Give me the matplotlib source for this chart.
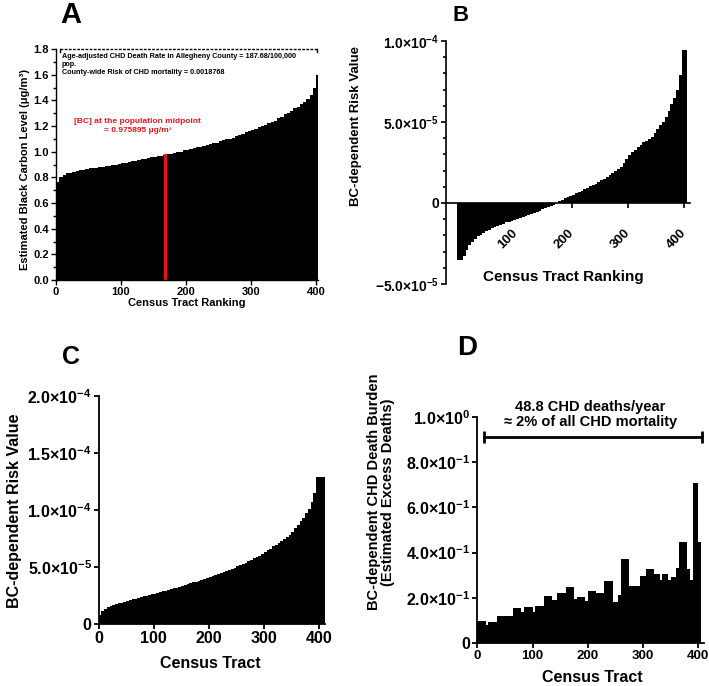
import numpy as np
import matplotlib
matplotlib.use('Agg')
import matplotlib.pyplot as plt
from matplotlib.ticker import MultipleLocator

plt.rcParams['font.family'] = ['Liberation Sans', 'DejaVu Sans']
plt.rcParams['font.weight'] = 'bold'
plt.rcParams['axes.labelweight'] = 'bold'
plt.rcParams['mathtext.fontset'] = 'custom'
plt.rcParams['mathtext.rm'] = 'Liberation Sans:bold'
plt.rcParams['mathtext.it'] = 'Liberation Sans:bold'
plt.rcParams['mathtext.bf'] = 'Liberation Sans:bold'

# A: estimated BC level by census tract ranking (one value per 5 ranks, from 0)
bc_level = [0.76, 0.80, 0.82, 0.83, 0.835, 0.84, 0.85, 0.855, 0.86, 0.865,
            0.87, 0.872, 0.875, 0.88, 0.882, 0.885, 0.89, 0.895, 0.90, 0.905,
            0.91, 0.915, 0.92, 0.925, 0.93, 0.935, 0.94, 0.945, 0.95, 0.955,
            0.96, 0.965, 0.97, 0.975, 0.98, 0.985, 0.99, 0.995, 1.00, 1.01,
            1.015, 1.02, 1.03, 1.035, 1.04, 1.045, 1.05, 1.06, 1.065, 1.07,
            1.08, 1.09, 1.095, 1.10, 1.11, 1.12, 1.13, 1.14, 1.15, 1.16,
            1.17, 1.18, 1.19, 1.20, 1.21, 1.22, 1.23, 1.24, 1.26, 1.27,
            1.29, 1.30, 1.32, 1.34, 1.35, 1.37, 1.39, 1.41, 1.44, 1.50,
            1.60]
midpoint_rank = 167
midpoint_bc = 0.975895
rate_text = ('Age-adjusted CHD Death Rate in Allegheny County = 187.68/100,000\n'
             'pop.\nCounty-wide Risk of CHD mortality = 0.0018768')
midpoint_text = '[BC] at the population midpoint\n= 0.975895 \u03bcg/m\u00b3'

# B: BC-dependent risk relative to midpoint, x1e-5 (per 5 ranks, from -5)
risk_rel = [-3.5, -3.5, -3.3, -2.9, -2.6, -2.4, -2.2, -2.05, -1.95, -1.85,
            -1.75, -1.65, -1.57, -1.5, -1.42, -1.35, -1.28, -1.2, -1.15, -1.1,
            -1.05, -1.0, -0.93, -0.86, -0.8, -0.73, -0.67, -0.6, -0.53, -0.47,
            -0.4, -0.33, -0.27, -0.2, -0.1, 0.0, 0.1, 0.2, 0.3, 0.38,
            0.45, 0.52, 0.6, 0.68, 0.76, 0.85, 0.93, 1.02, 1.1, 1.2,
            1.3, 1.4, 1.5, 1.62, 1.73, 1.85, 1.98, 2.1, 2.25, 2.45,
            2.7, 2.95, 3.15, 3.3, 3.45, 3.6, 3.75, 3.85, 3.95, 4.1,
            4.3, 4.55, 4.8, 5.0, 5.3, 5.7, 6.1, 6.5, 7.0, 7.9,
            9.45, 9.45]

# C: BC-dependent risk value, x1e-5 (per 5 ranks, from 0)
risk_abs = [0.8, 1.15, 1.35, 1.45, 1.55, 1.65, 1.72, 1.8, 1.88, 1.95,
            2.02, 2.08, 2.15, 2.2, 2.28, 2.35, 2.42, 2.48, 2.55, 2.6,
            2.67, 2.73, 2.8, 2.86, 2.92, 2.98, 3.05, 3.12, 3.2, 3.28,
            3.35, 3.42, 3.5, 3.57, 3.65, 3.72, 3.8, 3.87, 3.95, 4.02,
            4.1, 4.18, 4.27, 4.36, 4.45, 4.55, 4.65, 4.75, 4.85, 4.95,
            5.05, 5.15, 5.25, 5.37, 5.5, 5.62, 5.75, 5.88, 6.0, 6.15,
            6.3, 6.45, 6.6, 6.8, 6.95, 7.1, 7.3, 7.45, 7.6, 7.85,
            8.1, 8.4, 8.7, 9.0, 9.3, 9.7, 10.1, 10.7, 11.5, 12.9,
            12.9, 12.9]

# D: BC-dependent CHD death burden (per 5 tracts, from 0)
burden = [0.099, 0.099, 0.099, 0.08, 0.094, 0.094, 0.094, 0.12, 0.12, 0.12,
          0.12, 0.12, 0.12, 0.153, 0.153, 0.153, 0.136, 0.16, 0.16, 0.16,
          0.138, 0.164, 0.164, 0.164, 0.208, 0.208, 0.208, 0.19, 0.19, 0.223,
          0.223, 0.223, 0.246, 0.246, 0.246, 0.195, 0.205, 0.205, 0.205, 0.186,
          0.23, 0.23, 0.23, 0.223, 0.223, 0.223, 0.276, 0.276, 0.276, 0.183,
          0.183, 0.212, 0.37, 0.37, 0.37, 0.252, 0.252, 0.252, 0.252, 0.298,
          0.298, 0.329, 0.329, 0.329, 0.304, 0.304, 0.28, 0.305, 0.305, 0.28,
          0.29, 0.29, 0.33, 0.448, 0.448, 0.448, 0.327, 0.28, 0.707, 0.707,
          0.448]
burden_span = [12, 407]
burden_level = 0.91
burden_text = '48.8 CHD deaths/year\n\u2248 2% of all CHD mortality'

a_yticks = [0.0, 0.2, 0.4, 0.6, 0.8, 1.0, 1.2, 1.4, 1.6, 1.8]
b_yticks = [-5e-5, 0, 5e-5, 1e-4]
b_yticklabels = [r'$-5.0{\times}10^{-5}$', '0', r'$5.0{\times}10^{-5}$', r'$1.0{\times}10^{-4}$']
c_yticks = [0, 5e-5, 1e-4, 1.5e-4, 2e-4]
c_yticklabels = ['0', r'$5.0{\times}10^{-5}$', r'$1.0{\times}10^{-4}$',
                 r'$1.5{\times}10^{-4}$', r'$2.0{\times}10^{-4}$']
d_yticks = [0, 0.2, 0.4, 0.6, 0.8, 1.0]
d_yticklabels = ['0', r'$2.0{\times}10^{-1}$', r'$4.0{\times}10^{-1}$',
                 r'$6.0{\times}10^{-1}$', r'$8.0{\times}10^{-1}$', r'$1.0{\times}10^{0}$']

W, H = 709, 686
fig = plt.figure(figsize=(W / 100, H / 100), dpi=100)


def box(l, r, b, t):
    return [l / W, 1 - b / H, (r - l) / W, (b - t) / H]


def style(ax, size, lw=1.2):
    for s in ['top', 'right']:
        ax.spines[s].set_visible(False)
    for s in ['left', 'bottom']:
        ax.spines[s].set_linewidth(lw)
    ax.tick_params(direction='out', length=3.5, width=lw, labelsize=size, pad=1.5)
    ax.tick_params(which='minor', direction='out', length=2, width=lw)


def bars(ax, start, vals, scale=1.0):
    # contiguous bars (5 ranks each) drawn as one filled step outline, no seams
    edges = np.arange(len(vals) + 1) * 5 + start
    ax.stairs(np.array(vals) * scale, edges, baseline=0, fill=True,
              color='black', lw=0)


# ---- A ----
axA = fig.add_axes(box(56, 318, 280, 49))
bars(axA, 0, bc_level)
axA.plot([midpoint_rank, midpoint_rank], [0, midpoint_bc], color='#e8141c', lw=2.4)
axA.set_xlim(0, 403)
axA.set_ylim(0, 1.8)
axA.set_yticks(a_yticks)
axA.yaxis.set_minor_locator(MultipleLocator(0.1))
axA.set_xticks([0, 100, 200, 300, 400])
axA.yaxis.set_major_formatter(plt.FormatStrFormatter('%.1f'))
style(axA, 8, lw=1.0)
axA.plot([6, 401], [1.8, 1.8], ls=(0, (2, 1)), color='black', lw=1.0, clip_on=False)
axA.plot([6, 6], [1.78, 1.8], color='black', lw=1.0, clip_on=False)
axA.plot([401, 401], [1.78, 1.8], color='black', lw=1.0, clip_on=False)
axA.text(9, 1.765, rate_text, fontsize=5.2, va='top', ha='left', linespacing=1.15)
axA.text(126, 1.2, midpoint_text, fontsize=6, color='#e8141c', ha='center', va='center',
         multialignment='center', linespacing=1.3)
fig.text(25 / W, 1 - 170 / H, 'Estimated Black Carbon Level (\u03bcg/m\u00b3)',
         rotation=90, ha='center', va='center', fontsize=8)
fig.text(187 / W, 1 - 303 / H, 'Census Tract Ranking', ha='center', va='center', fontsize=8)

# ---- B ----
axB = fig.add_axes(box(446, 690, 284, 41))
bars(axB, -5, risk_rel, 1e-5)
axB.set_xlim(-25, 410)
axB.set_ylim(-5e-5, 1e-4)
style(axB, 10)
axB.spines['bottom'].set_position(('data', 0))
axB.set_yticks(b_yticks)
axB.set_yticklabels(b_yticklabels)
axB.yaxis.set_minor_locator(MultipleLocator(1e-5))
axB.set_xticks([100, 200, 300, 400])
axB.tick_params(axis='x', pad=17, labelsize=9.5)
plt.setp(axB.get_xticklabels(), rotation=45, ha='right', va='center', rotation_mode='anchor')
fig.text(356 / W, 1 - 126 / H, 'BC-dependent Risk Value', rotation=90,
         ha='center', va='center', fontsize=9.5)
fig.text(563 / W, 1 - 277 / H, 'Census Tract Ranking', ha='center', va='center', fontsize=11)

# ---- C ----
axC = fig.add_axes(box(98.5, 324.5, 624, 396))
bars(axC, 0, risk_abs, 1e-5)
axC.set_xlim(0, 410)
axC.set_ylim(0, 2e-4)
style(axC, 11.5, lw=1.3)
axC.set_yticks(c_yticks)
axC.set_yticklabels(c_yticklabels)
axC.set_xticks([0, 100, 200, 300, 400])
fig.text(15 / W, 1 - 511 / H, 'BC-dependent Risk Value', rotation=90,
         ha='center', va='center', fontsize=11.5)
fig.text(210 / W, 1 - 664 / H, 'Census Tract', ha='center', va='center', fontsize=11.5)

# ---- D ----
axD = fig.add_axes(box(477.3, 703.8, 643, 417))
bars(axD, 0, burden)
axD.set_xlim(0, 410)
axD.set_ylim(0, 1.0)
style(axD, 11.5, lw=1.3)
axD.set_yticks(d_yticks)
axD.set_yticklabels(d_yticklabels)
axD.set_xticks([0, 100, 200, 300, 400])
axD.tick_params(axis='x', labelsize=9.5)
axD.plot(burden_span, [burden_level, burden_level], color='black', lw=2,
         marker='|', markersize=9, mew=2, clip_on=False)
axD.text(sum(burden_span) / 2 - 5, 1.013, burden_text, ha='center', va='center',
         fontsize=10.5, multialignment='center', linespacing=1.1, clip_on=False)
fig.text(381 / W, 1 - 492 / H,
         'BC-dependent CHD Death Burden\n(Estimated Excess Deaths)',
         rotation=90, ha='center', va='center', fontsize=10.5,
         multialignment='center', linespacing=1.05)
fig.text(592 / W, 1 - 677 / H, 'Census Tract', ha='center', va='center', fontsize=11.5)

# panel letters
fig.text(60 / W, 1 - 23 / H, 'A', fontsize=21, ha='left', va='baseline')
fig.text(452 / W, 1 - 21 / H, 'B', fontsize=16, ha='left', va='baseline')
fig.text(62 / W, 1 - 364 / H, 'C', fontsize=18, ha='left', va='baseline')
fig.text(457 / W, 1 - 355 / H, 'D', fontsize=20, ha='left', va='baseline')

fig.savefig('out.png', dpi=100)
